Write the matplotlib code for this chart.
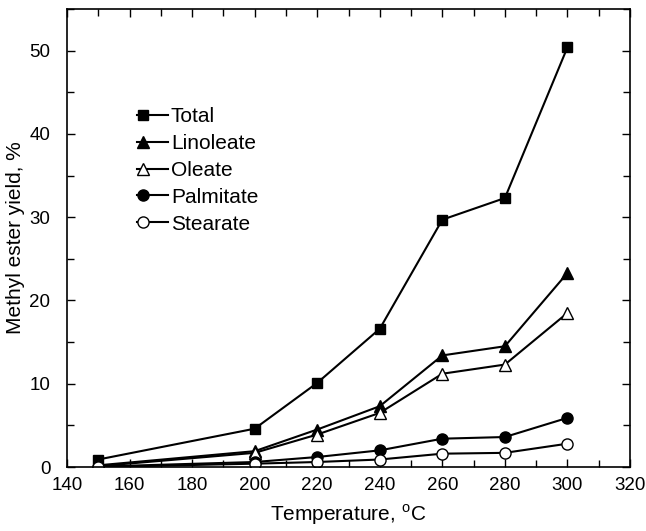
import matplotlib
matplotlib.use("Agg")
import matplotlib.pyplot as plt
from matplotlib.legend_handler import HandlerLine2D
from matplotlib.ticker import MultipleLocator

plt.rcParams['font.family'] = ['Liberation Sans', 'DejaVu Sans']
plt.rcParams['mathtext.fontset'] = 'custom'
plt.rcParams['mathtext.rm'] = 'Liberation Sans'

temps = [150, 200, 220, 240, 260, 280, 300]
total = [0.9, 4.6, 10.1, 16.6, 29.7, 32.3, 50.4]
linoleate = [0.2, 1.9, 4.5, 7.3, 13.4, 14.5, 23.3]
oleate = [0.1, 1.7, 3.9, 6.5, 11.2, 12.3, 18.5]
palmitate = [0.05, 0.6, 1.2, 2.0, 3.4, 3.6, 5.9]
stearate = [0.0, 0.4, 0.6, 0.9, 1.6, 1.7, 2.8]

series = [
    ("Total", total, 's', 'black', 7.5),
    ("Linoleate", linoleate, '^', 'black', 8.5),
    ("Oleate", oleate, '^', 'white', 8.5),
    ("Palmitate", palmitate, 'o', 'black', 8),
    ("Stearate", stearate, 'o', 'white', 8),
]

fig = plt.figure(figsize=(6.46, 5.31), dpi=100)
ax = fig.add_axes([67/646, 1-467/531, (630-67)/646, (467-9)/531])

for name, vals, m, fc, ms in series:
    ax.plot(temps, vals, color='black', lw=1.5, marker=m, markerfacecolor=fc,
            markeredgecolor='black', markeredgewidth=1.0, markersize=ms, label=name)

ax.set_xlim(140, 320)
ax.set_ylim(0, 55)
ax.xaxis.set_major_locator(MultipleLocator(20))
ax.xaxis.set_minor_locator(MultipleLocator(10))
ax.yaxis.set_major_locator(MultipleLocator(10))
ax.yaxis.set_minor_locator(MultipleLocator(5))
ax.tick_params(which='both', direction='in', top=True, right=True, labelsize=13.5, width=1.0)
ax.tick_params(which='major', length=6)
ax.tick_params(which='minor', length=5)
ax.tick_params(axis='x', which='major', pad=7)
ax.tick_params(axis='y', which='major', pad=12)
for s in ax.spines.values():
    s.set_linewidth(1.2)

ax.set_xlabel(r'Temperature, $^{\mathrm{o}}$C', fontsize=15, labelpad=6)
ax.set_ylabel('Methyl ester yield, %', fontsize=15, labelpad=3)


class LeftMarker(HandlerLine2D):
    def create_artists(self, *args, **kwargs):
        arts = super().create_artists(*args, **kwargs)
        for a in arts:
            xd = a.get_xdata()
            x0, x1 = xd[0], xd[-1]
            a.set_xdata([x0, x0 + 0.2 * (x1 - x0), x1])
            a.set_markevery([1])
        return arts


ax.legend(frameon=False, loc='upper left', bbox_to_anchor=(0.124, 0.786),
          borderpad=0, borderaxespad=0,
          fontsize=15, handlelength=1.49, handletextpad=0.15, labelspacing=0.38,
          numpoints=1, handler_map={plt.Line2D: LeftMarker()})

fig.savefig('out.png', dpi=100)
